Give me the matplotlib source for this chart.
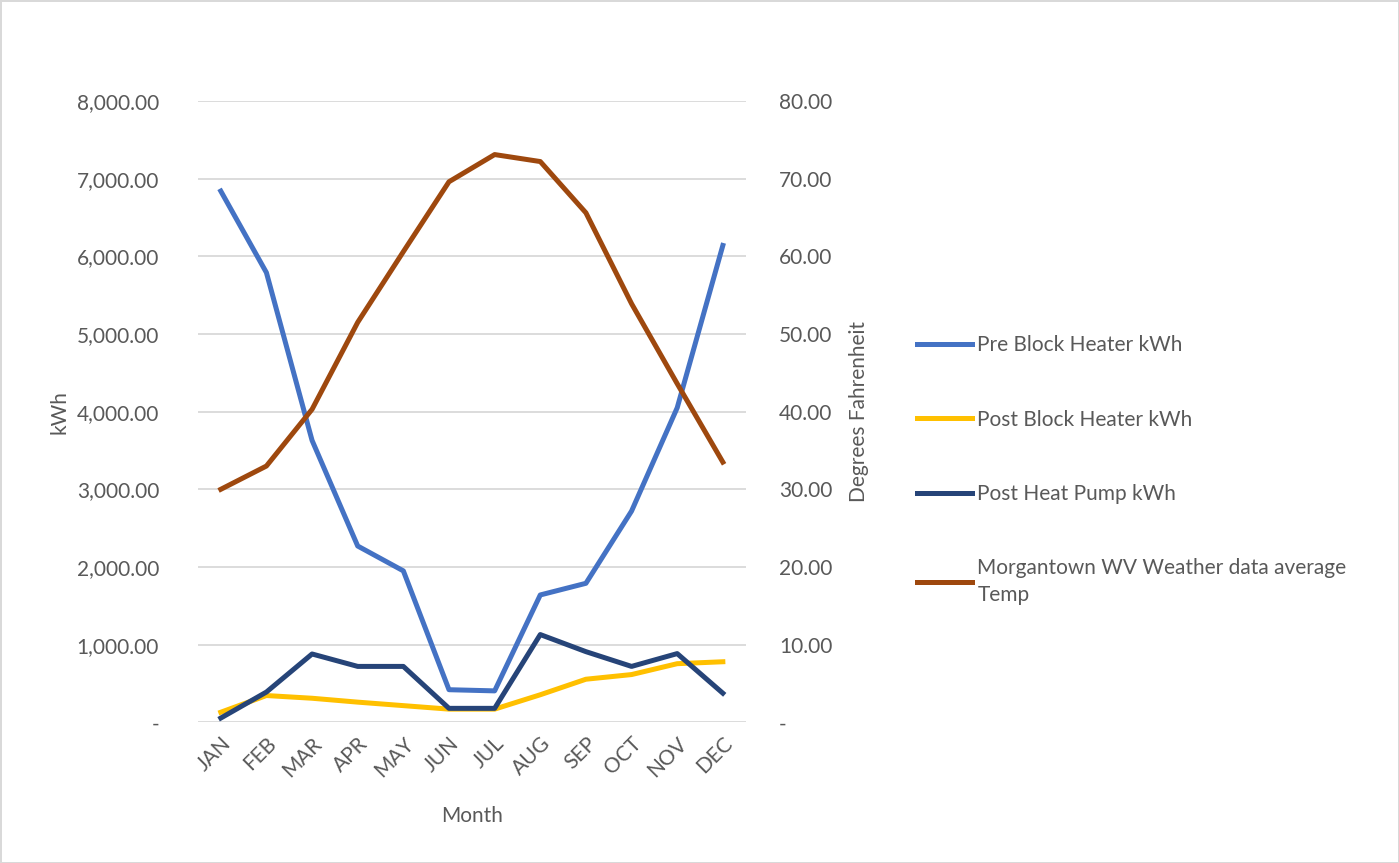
import matplotlib.pyplot as plt
from matplotlib.ticker import FuncFormatter

months = ['JAN', 'FEB', 'MAR', 'APR', 'MAY', 'JUN', 'JUL', 'AUG', 'SEP', 'OCT', 'NOV', 'DEC']
pre_block = [6840, 5790, 3630, 2270, 1950, 420, 405, 1640, 1790, 2720, 4050, 6140]
post_block = [130, 345, 310, 260, 215, 170, 170, 355, 555, 615, 755, 780]
post_pump = [55, 390, 880, 720, 720, 180, 180, 1130, 910, 720, 885, 375]
temp = [30.0, 33.0, 40.3, 51.5, 60.6, 69.6, 73.1, 72.2, 65.6, 53.9, 43.6, 33.5]

grey = '#595959'
plt.rcParams['font.family'] = ['Lato', 'DejaVu Sans']

fig = plt.figure(figsize=(13.99, 8.63), dpi=100)
fig.patch.set_edgecolor('#d9d9d9')
fig.patch.set_linewidth(2)
ax = fig.add_axes([0.1415, 0.163, 0.3915, 0.72])
ax2 = ax.twinx()

x = range(len(months))
lw = 3.6
l1, = ax.plot(x, pre_block, color='#4472C4', lw=lw, label='Pre Block Heater kWh')
l2, = ax.plot(x, post_block, color='#FFC000', lw=lw, label='Post Block Heater kWh')
l3, = ax.plot(x, post_pump, color='#264478', lw=lw, label='Post Heat Pump kWh')
l4, = ax2.plot(x, temp, color='#9E480E', lw=lw,
               label='Morgantown WV Weather data average\nTemp')

ax.set_xlim(-0.5, len(months) - 0.5)
ax.set_ylim(0, 8000)
ax2.set_ylim(0, 80)
ax.set_yticks(range(0, 8001, 1000))
ax2.set_yticks(range(0, 81, 10))


def fmt_left(v, pos):
    return '-' if v == 0 else f'{v:,.2f}'


def fmt_right(v, pos):
    return '-' if v == 0 else f'{v:.2f}'


ax.yaxis.set_major_formatter(FuncFormatter(fmt_left))
ax2.yaxis.set_major_formatter(FuncFormatter(fmt_right))

ax.set_xticks(list(x))
ax.set_xticklabels(months, rotation=45, ha='right', rotation_mode='anchor')

ax.grid(axis='y', color='#d9d9d9', lw=1.3)
ax.set_axisbelow(True)
for a in (ax, ax2):
    for s in a.spines.values():
        s.set_visible(False)
    a.tick_params(length=0, labelsize=15, colors=grey)
ax.tick_params(axis='y', pad=28)
ax2.tick_params(axis='y', pad=24)
ax.tick_params(axis='x', pad=8)

ax.set_xlabel('Month', fontsize=15, color=grey, labelpad=18)
ax.set_ylabel('kWh', fontsize=15, color=grey, labelpad=5)
ax2.set_ylabel('Degrees Fahrenheit', fontsize=15, color=grey, labelpad=12)

leg = fig.legend(handles=[l1, l2, l3, l4], loc='center left', bbox_to_anchor=(0.642, 0.455),
                 frameon=False, fontsize=15, labelcolor=grey, labelspacing=2.6,
                 handlelength=2.65, handletextpad=0.25)
for t in leg.get_texts():
    t.set_linespacing(1.45)

fig.savefig('out.png', dpi=100)
